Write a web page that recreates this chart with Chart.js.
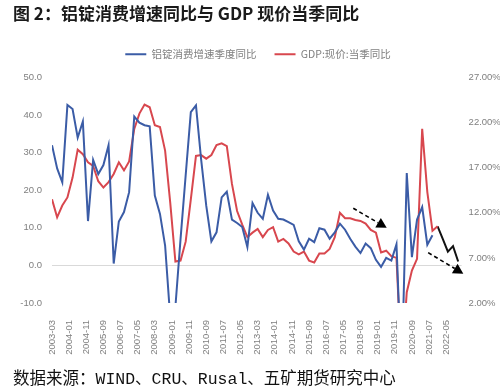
<!DOCTYPE html>
<html>
<head>
<meta charset="utf-8">
<script src="https://cdn.jsdelivr.net/npm/chart.js@4/dist/chart.umd.min.js"></script>
<style>
  body { margin: 0; background: #fff; }
  #wrap { position: relative; width: 500px; height: 389px; }
  #title { position: absolute; left: 13px; top: 0px; font: bold 17px "Noto Sans CJK SC", sans-serif; color: #1a1a1a; white-space: nowrap; }
  #source { position: absolute; left: 13px; top: 365px; font: 16.5px "Liberation Mono", "Noto Sans CJK SC", monospace; color: #111; white-space: nowrap; }
</style>
</head>
<body>
<div id="wrap">
  <canvas id="grafico"></canvas>
  <div id="title">图 2：铝锭消费增速同比与 GDP 现价当季同比</div>
  <div id="source">数据来源：WIND、CRU、Rusal、五矿期货研究中心</div>
</div>
<script>
// quarterly series, first point = 2003-03, one point every 3 months
const xTickLabels = ["2003-03", "2004-01", "2004-11", "2005-09", "2006-07", "2007-05", "2008-03", "2009-01",
  "2009-11", "2010-09", "2011-07", "2012-05", "2013-03", "2014-01", "2014-11", "2015-09", "2016-07",
  "2017-05", "2018-03", "2019-01", "2019-11", "2020-09", "2021-07", "2022-05"];

// 铝锭消费增速季度同比 (%), 2003-03 .. 2021-09
const aluminio = [32.0, 25.8, 22.1, 42.7, 41.6, 34.0, 38.3, 11.8, 28.1, 24.3, 26.7, 32.0,
  0.5, 11.7, 14.2, 19.5, 39.6, 38.0, 37.3, 37.0, 18.6, 13.7, 5.3, -14.0,
  -11.0, 7.0, 24.0, 40.8, 42.6, 28.3, 15.9, 6.4, 8.8, 18.1, 19.6, 12.2,
  11.3, 10.2, 4.9, 16.6, 14.0, 12.4, 18.8, 14.6, 12.4, 12.2, 11.5, 10.8,
  6.4, 4.2, 7.1, 6.2, 9.9, 9.5, 7.1, 8.8, 11.1, 9.5, 7.1, 5.0,
  3.3, 5.8, 4.6, 1.5, -0.4, 2.0, 1.3, 5.6, -30.0, 24.6, 2.2, 12.2,
  15.5, 5.5, 8.0];

// GDP:现价:当季同比 (%), 2003-03 .. 2021-12
const pib = [13.5, 11.5, 12.8, 13.7, 15.9, 19.0, 18.5, 17.6, 17.2, 15.5, 14.8, 15.4,
  16.3, 17.6, 16.7, 17.7, 21.3, 23.0, 24.0, 23.7, 21.7, 21.5, 18.9, 13.1,
  6.6, 6.7, 8.8, 13.5, 18.3, 18.4, 18.0, 18.4, 19.5, 19.7, 19.4, 15.2,
  12.2, 10.7, 9.3, 9.8, 10.2, 9.3, 10.1, 10.4, 8.8, 9.1, 8.6, 7.7,
  7.4, 7.7, 6.7, 6.5, 7.5, 7.5, 8.0, 9.3, 12.0, 11.4, 11.4, 11.2,
  11.1, 10.8, 10.1, 9.8, 7.6, 7.8, 7.2, 7.0, -5.3, 3.2, 5.6, 6.9,
  21.3, 14.3, 10.0, 10.5];

// black continuation 2021-12 .. 2022-12 (%)
const pronostico = [10.5, 9.1, 7.7, 8.3, 6.6];
const inicioPronostico = 75;

// dashed arrows (x in months from 2003-03, y on left axis)
const flechas = [
  { x0: 175.8, y0: 15.2, x1: 195.3, y1: 10.0 },
  { x0: 219.5, y0: 3.4, x1: 240.0, y1: -2.2 }
];

const aPuntos = (arr, start) => arr.map((v, i) => ({ x: (start + i) * 3, y: v }));

const pluginFlechas = {
  id: 'flechas',
  afterDatasetsDraw(chart) {
    const ctx = chart.ctx;
    const sx = chart.scales.x, sy = chart.scales.y;
    ctx.save();
    ctx.strokeStyle = '#000';
    ctx.fillStyle = '#000';
    ctx.lineWidth = 1.6;
    flechas.forEach(f => {
      const x0 = sx.getPixelForValue(f.x0), y0 = sy.getPixelForValue(f.y0);
      const x1 = sx.getPixelForValue(f.x1), y1 = sy.getPixelForValue(f.y1);
      const ang = Math.atan2(y1 - y0, x1 - x0);
      const head = 10, half = 5.5;
      const bx = x1 - head * Math.cos(ang), by = y1 - head * Math.sin(ang);
      ctx.setLineDash([4, 3]);
      ctx.beginPath();
      ctx.moveTo(x0, y0);
      ctx.lineTo(bx, by);
      ctx.stroke();
      ctx.setLineDash([]);
      ctx.beginPath();
      ctx.moveTo(x1, y1);
      ctx.lineTo(bx + half * Math.sin(ang), by - half * Math.cos(ang));
      ctx.lineTo(bx - half * Math.sin(ang), by + half * Math.cos(ang));
      ctx.closePath();
      ctx.fill();
    });
    ctx.restore();
  }
};

Chart.defaults.font.family = '"Liberation Sans", sans-serif';
Chart.defaults.color = '#7f7f7f';

const ctxGrafico = document.getElementById('grafico').getContext('2d');
new Chart(ctxGrafico, {
  type: 'line',
  data: {
    datasets: [
      {
        label: '铝锭消费增速季度同比',
        data: aPuntos(aluminio, 0),
        borderColor: '#3b5ca6',
        backgroundColor: '#3b5ca6',
        borderWidth: 2,
        yAxisID: 'y'
      },
      {
        label: 'GDP:现价:当季同比',
        data: aPuntos(pib, 0),
        borderColor: '#d8474e',
        backgroundColor: '#d8474e',
        borderWidth: 2,
        yAxisID: 'y1'
      },
      {
        label: 'forecast',
        data: aPuntos(pronostico, inicioPronostico),
        borderColor: '#111',
        backgroundColor: '#111',
        borderWidth: 2,
        yAxisID: 'y1'
      }
    ]
  },
  options: {
    responsive: true,
    maintainAspectRatio: false,
    animation: false,
    layout: { padding: { top: 31, left: 16, right: 0, bottom: 0 } },
    elements: { point: { radius: 0 }, line: { tension: 0 } },
    plugins: {
      tooltip: { enabled: false },
      // empty spacer between legend and plot area
      subtitle: {
        display: true,
        text: ' ',
        weight: 100,
        padding: 0,
        color: 'rgba(0,0,0,0)',
        font: { size: 8, lineHeight: 1 }
      },
      legend: {
        position: 'top',
        labels: {
          usePointStyle: true,
          pointStyle: 'line',
          pointStyleWidth: 21,
          padding: 18,
          color: '#808080',
          font: { family: '"Noto Sans CJK SC", sans-serif', size: 10.5 },
          filter: item => item.datasetIndex < 2
        }
      }
    },
    scales: {
      x: {
        type: 'linear',
        min: 0,
        max: 239,
        grid: { display: false },
        border: { display: false },
        ticks: {
          stepSize: 10,
          maxTicksLimit: 40,
          includeBounds: false,
          autoSkip: false,
          minRotation: 90,
          maxRotation: 90,
          padding: 9,
          font: { size: 9.5 },
          callback: v => xTickLabels[Math.round(v / 10)]
        },
        afterFit: s => { s.height = 86; }
      },
      y: {
        position: 'left',
        min: -10,
        max: 50,
        border: { display: false },
        grid: {
          drawTicks: false,
          color: c => (c.tick && c.tick.value === 0) ? '#d9d9d9' : 'rgba(0,0,0,0)'
        },
        ticks: {
          stepSize: 10,
          padding: 10,
          font: { size: 9.5 },
          callback: v => v.toFixed(1)
        },
        afterFit: s => { s.width = 36; }
      },
      y1: {
        position: 'right',
        min: 2,
        max: 27,
        border: { display: false },
        grid: { display: false, drawTicks: false },
        ticks: {
          stepSize: 5,
          padding: 7,
          font: { size: 9.5 },
          callback: v => v.toFixed(2) + '%'
        },
        afterFit: s => { s.width = 38.4; }
      }
    }
  },
  plugins: [pluginFlechas]
});
</script>
</body>
</html>
